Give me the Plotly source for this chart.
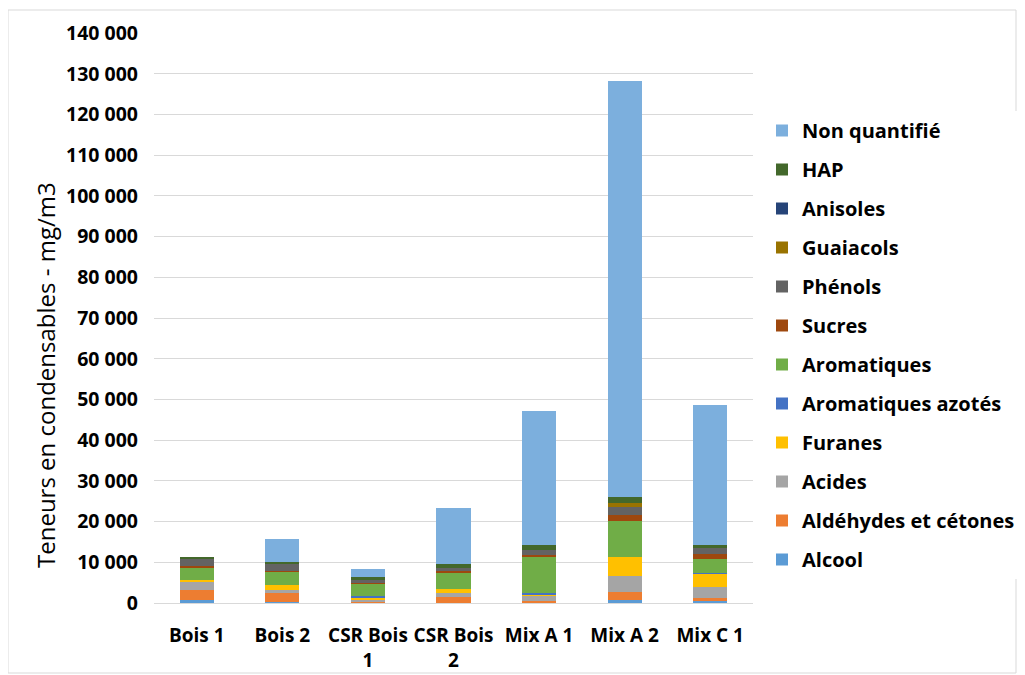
import plotly.graph_objects as go

# categories (bars)
echantillons = ["Bois 1", "Bois 2", "CSR Bois<br>1", "CSR Bois<br>2", "Mix A 1", "Mix A 2", "Mix C 1"]

# stacked families, bottom to top (mg/m3)
alcool = [820, 330, 50, 80, 60, 820, 490]
aldehydes = [2380, 2130, 150, 1310, 490, 1890, 740]
acides = [1970, 740, 740, 980, 1230, 4020, 2700]
furanes = [490, 1230, 490, 1150, 250, 4590, 3200]
aromatiques_azotes = [60, 40, 300, 40, 330, 100, 250]
aromatiques = [2950, 3190, 3110, 3930, 9020, 8610, 3440]
sucres = [490, 160, 60, 330, 490, 1640, 1310]
phenols = [1640, 1800, 740, 900, 1230, 1890, 1390]
guaiacols = [0, 0, 0, 0, 0, 980, 0]
anisoles = [0, 0, 0, 0, 0, 0, 0]
hap = [570, 490, 740, 740, 1150, 1390, 740]
non_quantifie = [0, 5500, 1970, 13760, 32790, 102300, 34430]

series = [
    ("Alcool", alcool, "#5B9BD5"),
    ("Aldéhydes et cétones", aldehydes, "#ED7D31"),
    ("Acides", acides, "#A5A5A5"),
    ("Furanes", furanes, "#FFC000"),
    ("Aromatiques azotés", aromatiques_azotes, "#4472C4"),
    ("Aromatiques", aromatiques, "#70AD47"),
    ("Sucres", sucres, "#9E480E"),
    ("Phénols", phenols, "#636363"),
    ("Guaiacols", guaiacols, "#997300"),
    ("Anisoles", anisoles, "#264478"),
    ("HAP", hap, "#43682B"),
    ("Non quantifié", non_quantifie, "#7CAFDD"),
]

font = "Open Sans"

# the page puts the figure 8px in from the window corner
OFF = 8
W, H = 1025 - OFF, 675 - OFF
L, R, T, B = 154 - OFF, 753 - OFF, 33 - OFF, 603 - OFF

def px_x(p):
    return (p - OFF - L) / (R - L)

def px_y(p):
    return (B - (p - OFF)) / (B - T)

fig = go.Figure()
n = len(series)
for i, (name, vals, col) in enumerate(series):
    fig.add_trace(go.Bar(
        x=echantillons, y=vals, name="<b>" + name + "</b>",
        marker=dict(color=col, line=dict(width=0)),
        legendgroup=name,
        legendrank=n - i,  # top of the stack first in the legend
    ))

# light frame round the chart
fig.add_shape(type="rect", xref="paper", yref="paper",
              x0=px_x(8), x1=px_x(1016), y0=px_y(673), y1=px_y(10),
              line=dict(color="#D9D9D9", width=1))

# y title sits lower than the plot centre in the original
fig.add_annotation(
    text="Teneurs en condensables - mg/m3",
    xref="paper", yref="paper",
    x=px_x(45), y=px_y(375), xanchor="center", yanchor="middle",
    textangle=-90, showarrow=False,
    font=dict(size=24, family=font, color="#000000"),
)

fig.update_layout(
    barmode="stack",
    bargap=0.6,
    width=W, height=H,
    margin=dict(l=L, r=W - R, t=T, b=H - B, autoexpand=False),
    plot_bgcolor="white", paper_bgcolor="white",
    separators=", ",
    font=dict(family=font, color="#000000"),
    legend=dict(
        traceorder="grouped",
        x=px_x(762), xanchor="left",
        y=px_y(111), yanchor="top",
        font=dict(size=20, family=font),
        tracegroupgap=10,
        itemwidth=30,
    ),
    xaxis=dict(
        tickfont=dict(size=19, family=font),
        tickprefix="<b>", ticksuffix="</b>",
        showline=True, linecolor="#D9D9D9",
        ticks="",
        ticklabelstandoff=15,
    ),
    yaxis=dict(
        range=[0, 140000],
        dtick=10000,
        tickformat=",d",
        tickprefix="<b>", ticksuffix="</b>",
        tickfont=dict(size=19.5, family=font),
        gridcolor="#D9D9D9", gridwidth=1,
        zeroline=False,
        ticklabelstandoff=15,
    ),
)

fig.write_html("out.html")
